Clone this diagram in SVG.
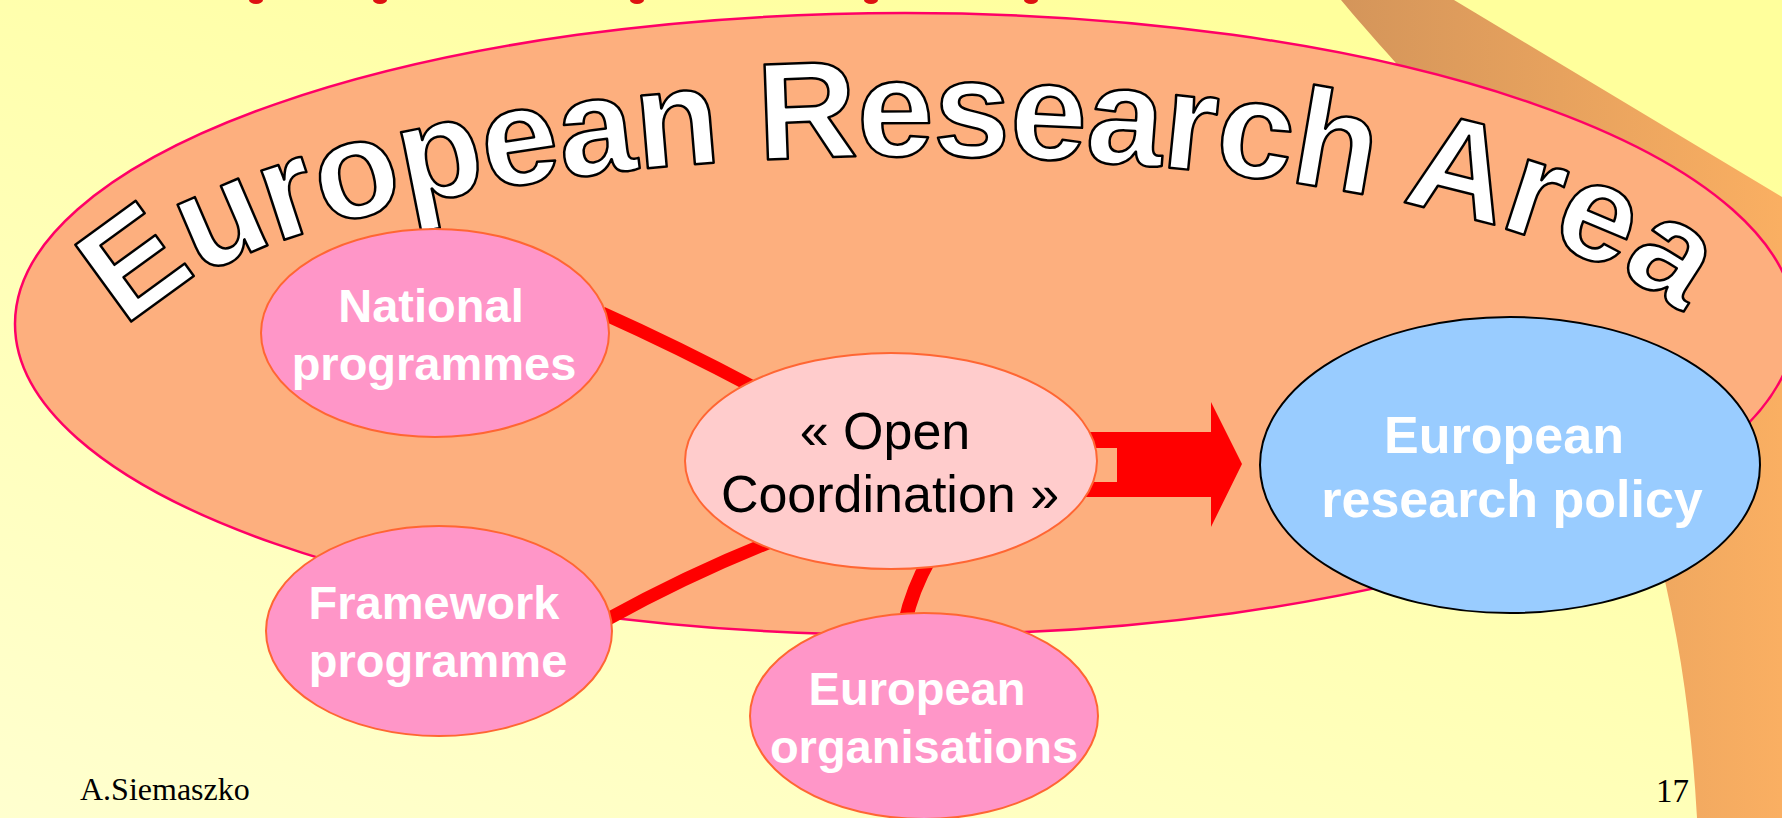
<svg xmlns="http://www.w3.org/2000/svg" width="1782" height="818" viewBox="0 0 1782 818">
  <defs>
    <linearGradient id="bg" x1="0" y1="1" x2="0.7" y2="0">
      <stop offset="0" stop-color="#FFFFCF"/>
      <stop offset="1" stop-color="#FFFF9C"/>
    </linearGradient>
    <linearGradient id="band" gradientUnits="userSpaceOnUse" x1="1340" y1="0" x2="1782" y2="0">
      <stop offset="0" stop-color="#D4955A"/>
      <stop offset="1" stop-color="#FAAF62"/>
    </linearGradient>
    <path id="arc" d="M107,381 A805,225 0 0 1 1717,381"/>
    <style>
      .conn { fill: none; stroke: #FF0000; stroke-width: 13; stroke-linecap: butt; }
      .pink { fill: #FF96C8; stroke: #FF6633; stroke-width: 2; }
      .wlbl { font-family: "Liberation Sans", Arial, sans-serif; font-weight: bold; fill: #FFFFFF; text-anchor: middle; }
      .blbl { font-family: "Liberation Sans", Arial, sans-serif; fill: #000000; text-anchor: middle; }
      .foot { font-family: "Liberation Serif", "Times New Roman", serif; fill: #000000; }
      .dot { fill: #DD1111; }
    </style>
  </defs>

  <rect x="0" y="0" width="1782" height="818" fill="url(#bg)"/>

  <g id="decor">
    <path d="M1341,0 L1454,0 L1782,197 L1782,818 L1697,818 C1692,730 1682,650 1660,560 L1560,300 L1395,62 C1372,36 1356,18 1341,0 Z" fill="url(#band)"/>
    <ellipse class="dot" cx="256" cy="0" rx="7" ry="4"/>
    <ellipse class="dot" cx="380" cy="0" rx="7" ry="4"/>
    <ellipse class="dot" cx="637" cy="0" rx="7" ry="4"/>
    <ellipse class="dot" cx="871" cy="0" rx="7" ry="4"/>
    <ellipse class="dot" cx="1031" cy="0" rx="7" ry="4"/>
  </g>

  <g id="era">
    <ellipse cx="905" cy="324" rx="890" ry="311" fill="#FDAF7E" stroke="#FF0066" stroke-width="2.5"/>
    <text font-family="Liberation Sans, Arial, sans-serif" font-weight="bold" font-size="138" fill="#FFFFFF" stroke="#000000" stroke-width="2.5" stroke-linejoin="round" letter-spacing="-1">
      <textPath href="#arc" startOffset="55">European Research Area</textPath>
    </text>
  </g>

  <g id="connectors">
    <path class="conn" d="M602,313 Q678,347 755,388"/>
    <path class="conn" d="M606,620 Q688,575 768,543"/>
    <path class="conn" d="M905,622 Q912,590 930,558" style="stroke-width:14"/>
    <path d="M1080,432 L1211,432 L1211,402 L1242,464 L1211,527 L1211,497 L1080,497 Z M1080,448 L1117,448 L1117,482 L1080,482 Z" fill="#FF0000" fill-rule="evenodd"/>
  </g>

  <g id="node-national">
    <ellipse class="pink" cx="435" cy="333" rx="174" ry="104"/>
    <text class="wlbl" font-size="47"><tspan x="431" y="322">National</tspan><tspan x="434" y="380">programmes</tspan></text>
  </g>

  <g id="node-framework">
    <ellipse class="pink" cx="439" cy="631" rx="173" ry="105"/>
    <text class="wlbl" font-size="47"><tspan x="434" y="619">Framework</tspan><tspan x="438" y="677">programme</tspan></text>
  </g>

  <g id="node-orgs">
    <ellipse class="pink" cx="924" cy="716" rx="174" ry="103"/>
    <text class="wlbl" font-size="47"><tspan x="917" y="705">European</tspan><tspan x="924" y="763">organisations</tspan></text>
  </g>

  <g id="node-open">
    <ellipse cx="891" cy="461" rx="206" ry="108" fill="#FFCCCC" stroke="#FF6633" stroke-width="2"/>
    <text class="blbl" font-size="52"><tspan x="885" y="449">« Open</tspan><tspan x="890" y="512">Coordination »</tspan></text>
  </g>

  <g id="node-policy">
    <ellipse cx="1510" cy="465" rx="250" ry="148" fill="#99CCFF" stroke="#000000" stroke-width="2"/>
    <text class="wlbl" font-size="52"><tspan x="1504" y="453">European</tspan><tspan x="1512" y="517">research policy</tspan></text>
  </g>

  <text class="foot" x="80" y="800" font-size="32">A.Siemaszko</text>
  <text class="foot" x="1656" y="802" font-size="33">17</text>
</svg>
